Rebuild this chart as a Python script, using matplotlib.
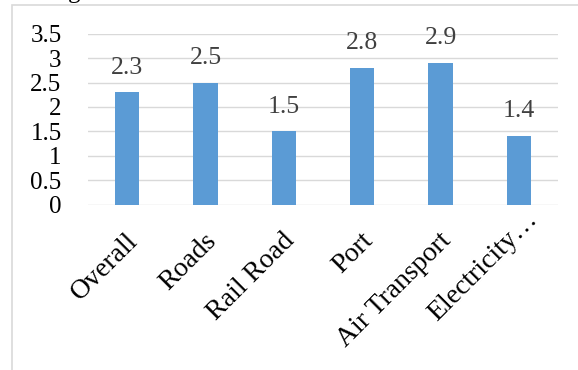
import matplotlib
matplotlib.use("Agg")
import matplotlib.pyplot as plt
import matplotlib.transforms as mtransforms
from matplotlib.patches import Rectangle

# chart data
categories = ["Overall", "Roads", "Rail Road", "Port", "Air Transport", "Electricity\u2026"]
scores = [2.3, 2.5, 1.5, 2.8, 2.9, 1.4]
y_ticks = [0, 0.5, 1, 1.5, 2, 2.5, 3, 3.5]
y_tick_labels = ["0", "0.5", "1", "1.5", "2", "2.5", "3", "3.5"]

BAR_COLOR = "#5B9BD5"
GRID_COLOR = "#D9D9D9"
FONT = "Liberation Serif"

W, H = 578, 370
fig = plt.figure(figsize=(W / 100, H / 100), dpi=100)
plt.rcParams["font.family"] = [FONT, "DejaVu Serif"]

# plot area in pixels (left, bottom, right, top)
left, bottom, right, top = 88, 165.5, 558, 336.3
ax = fig.add_axes([left / W, bottom / H, (right - left) / W, (top - bottom) / H])

x = range(len(categories))
ax.bar(x, scores, width=0.31, color=BAR_COLOR, zorder=3)

for xi, v in zip(x, scores):
    ax.annotate(f"{v:g}", (xi, v), xytext=(0, 13.5), textcoords="offset points",
                ha="center", va="baseline", fontsize=18.5, color="#404040", zorder=4)

ax.set_xlim(-0.5, len(categories) - 0.5)
ax.set_ylim(0, 3.5)
ax.set_yticks(y_ticks)
ax.set_yticklabels(y_tick_labels, fontsize=18)
ax.set_xticks(list(x))
ax.set_xticklabels(categories, fontsize=20, rotation=45, ha="right", va="top",
                   rotation_mode="anchor")
ax.tick_params(axis="y", length=0, pad=19)
ax.tick_params(axis="x", length=0, pad=17)

ax.grid(axis="y", color=GRID_COLOR, linewidth=1.0, zorder=0)
for s in ax.spines.values():
    s.set_visible(False)

# small horizontal nudge on category labels, the truncated one sits higher
for i, lbl in enumerate(ax.get_xticklabels()):
    dx, dy = -2, 0
    if i == len(categories) - 1:
        dx, dy = 6, 21
    lbl.set_transform(lbl.get_transform() + mtransforms.ScaledTranslation(dx / 100, dy / 100, fig.dpi_scale_trans))

# chart area border, cropped on the right and bottom
fig.add_artist(Rectangle((12 / W, -0.2), 2, 1.2 - 5 / H, transform=fig.transFigure,
                         fill=False, edgecolor=GRID_COLOR, linewidth=1.2))

# bottom of the cut-off title above the frame
fig.text(74 / W, 1 + 2 / H, "g", ha="center", va="baseline", fontsize=18, color="#000000")

fig.savefig("out.png", dpi=100)
